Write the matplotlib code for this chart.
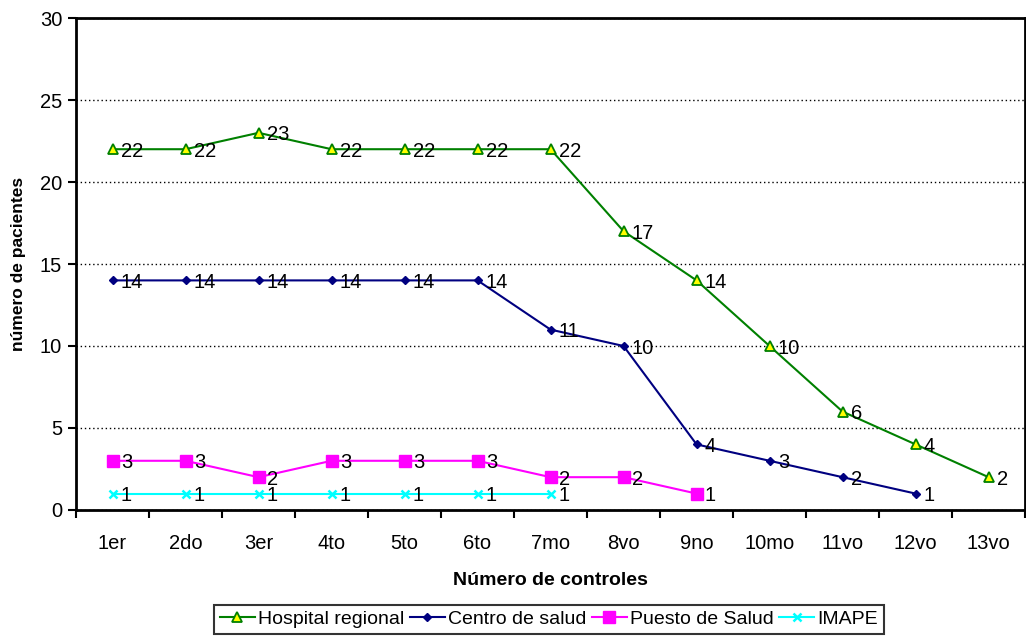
import matplotlib.pyplot as plt
from matplotlib.ticker import MultipleLocator, FixedLocator

plt.rcParams['font.family'] = ['Liberation Sans', 'DejaVu Sans']

# datos por control
controles = ['1er', '2do', '3er', '4to', '5to', '6to', '7mo', '8vo', '9no',
             '10mo', '11vo', '12vo', '13vo']
hospital = [22, 22, 23, 22, 22, 22, 22, 17, 14, 10, 6, 4, 2]
centro = [14, 14, 14, 14, 14, 14, 11, 10, 4, 3, 2, 1]
puesto = [3, 3, 2, 3, 3, 3, 2, 2, 1]
imape = [1, 1, 1, 1, 1, 1, 1]

series = [
    ('Hospital regional', hospital, dict(color='#008000', marker='^', markersize=6.5,
                                         markerfacecolor='#FFFF00', markeredgecolor='#008000',
                                         markeredgewidth=1.3)),
    ('Centro de salud', centro, dict(color='#000080', marker='D', markersize=4,
                                     markerfacecolor='#000080', markeredgecolor='#000080')),
    ('Puesto de Salud', puesto, dict(color='#FF00FF', marker='s', markersize=8,
                                     markerfacecolor='#FF00FF', markeredgecolor='#FF00FF')),
    ('IMAPE', imape, dict(color='#00FFFF', marker='x', markersize=6,
                          markeredgewidth=1.8)),
]

fig = plt.figure(figsize=(10.26, 6.37), dpi=100)
ax = fig.add_axes([0.0741, 0.1994, 0.925, 0.7723])

for nombre, vals, estilo in series:
    x = list(range(len(vals)))
    ax.plot(x, vals, linewidth=1.5, label=nombre, clip_on=False, **estilo)
    for xi, v in zip(x, vals):
        ax.annotate(str(v), (xi, v), xytext=(6, -1.5), textcoords='offset points',
                    ha='left', va='center', fontsize=14.5, color='black', zorder=5)

ax.set_xlim(-0.5, len(controles) - 0.5)
ax.set_ylim(0, 30)
ax.yaxis.set_major_locator(MultipleLocator(5))
ax.set_xticks(range(len(controles)))
ax.set_xticklabels(controles)
ax.xaxis.set_minor_locator(FixedLocator([i + 0.5 for i in range(-1, len(controles))]))
ax.tick_params(axis='x', which='major', length=0, pad=17, labelsize=14.5)
ax.tick_params(axis='x', which='minor', length=6, width=1.5, direction='out')
ax.tick_params(axis='y', length=6, width=1.5, direction='out', labelsize=14.5, pad=4)

ax.grid(axis='y', linestyle=(0, (1, 2)), color='black', linewidth=1)
ax.set_axisbelow(True)
for s in ax.spines.values():
    s.set_linewidth(2)

ax.set_xlabel('Número de controles', fontsize=14, fontweight='bold', labelpad=14)
ax.set_ylabel('número de pacientes', fontsize=12.5, fontweight='bold', labelpad=10)

leg = fig.legend(loc='upper center', bbox_to_anchor=(0.535, 0.066), ncol=4,
                 fontsize=14, frameon=True, fancybox=False, edgecolor='black',
                 handlelength=1.8, handletextpad=0.15, columnspacing=0.3,
                 borderpad=0.3)
leg.get_frame().set_linewidth(1.5)

fig.savefig('out.png', dpi=100)
